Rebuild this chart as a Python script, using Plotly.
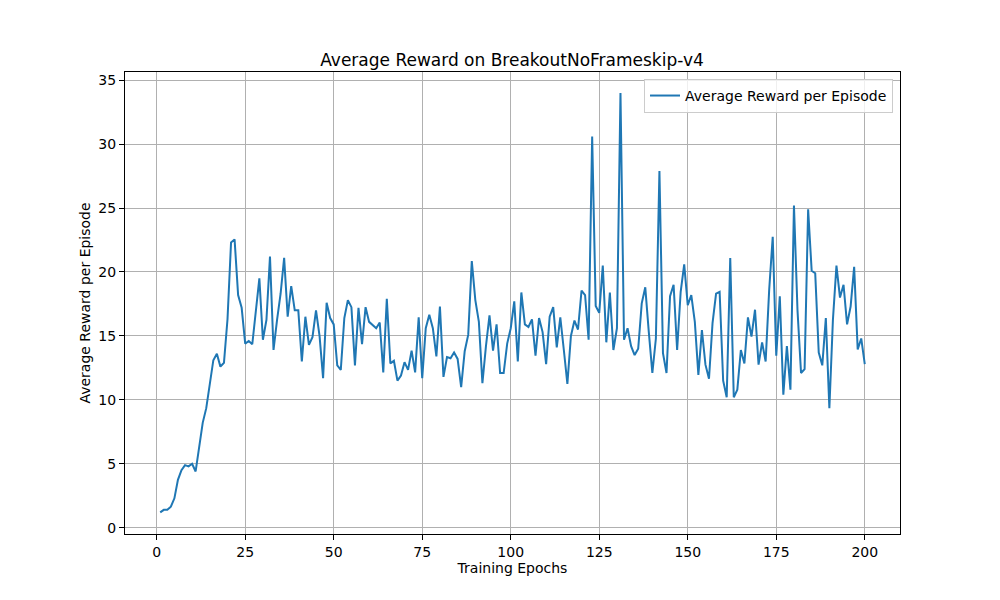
import plotly.graph_objects as go

epochs = list(range(1, 201))
avg_reward = [
    1.2, 1.4, 1.4, 1.65, 2.3, 3.75, 4.5, 4.9, 4.8, 5.0,
    4.4, 6.2, 8.2, 9.35, 11.4, 13.1, 13.6, 12.6, 12.9, 16.3,
    22.3, 22.55, 18.2, 17.2, 14.4, 14.6, 14.35, 17.2, 19.5, 14.7,
    16.25, 21.2, 13.9, 16.25, 18.3, 21.1, 16.5, 18.9, 17.0, 17.0,
    13.0, 16.5, 14.3, 14.9, 17.0, 15.0, 11.7, 17.6, 16.4, 15.9,
    12.7, 12.35, 16.4, 17.8, 17.25, 12.7, 17.2, 14.35, 17.25, 16.1,
    15.85, 15.6, 16.05, 12.15, 17.9, 12.85, 13.05, 11.5, 11.9, 12.95,
    12.35, 13.85, 12.15, 16.45, 11.7, 15.6, 16.65, 15.6, 13.4, 17.3,
    11.8, 13.35, 13.25, 13.7, 13.2, 11.0, 13.8, 15.1, 20.85, 17.8,
    16.1, 11.3, 14.2, 16.6, 13.85, 15.9, 12.1, 12.1, 14.4, 15.6,
    17.7, 13.0, 18.4, 15.9, 15.7, 16.3, 13.45, 16.4, 15.3, 12.8,
    16.5, 17.25, 14.1, 16.45, 13.9, 11.25, 15.0, 16.2, 15.5, 18.55,
    18.2, 14.7, 30.6, 17.35, 16.8, 20.5, 14.5, 18.4, 13.9, 15.6,
    34.0, 14.7, 15.6, 14.2, 13.5, 14.0, 17.55, 18.8, 15.3, 12.1,
    14.8, 27.9, 13.65, 12.1, 18.1, 19.0, 13.9, 18.45, 20.6, 17.4,
    18.2, 16.1, 11.95, 15.45, 12.75, 11.65, 16.0, 18.3, 18.45, 11.5,
    10.2, 21.1, 10.2, 10.8, 13.9, 12.85, 16.45, 14.95, 17.05, 12.75,
    14.5, 13.0, 18.6, 22.75, 13.45, 18.1, 10.4, 14.2, 10.8, 25.2,
    17.0, 12.1, 12.4, 24.9, 20.1, 19.9, 13.7, 12.7, 16.4, 9.35,
    16.25, 20.5, 18.0, 19.0, 15.9, 17.3, 20.4, 13.95, 14.8, 12.8,
]

FONT = "DejaVu Sans"
GRID = "#b0b0b0"

line = go.Scatter(
    x=epochs, y=avg_reward, mode="lines",
    name="Average Reward per Episode",
    line=dict(color="#1f77b4", width=2),
)

# la page html ajoute ~8px de marge : on compense dans les marges
fig = go.Figure(data=[line])
fig.update_layout(
    width=1000, height=600,
    paper_bgcolor="white", plot_bgcolor="white",
    margin=dict(l=117, r=108, t=64, b=74),
    font=dict(family=FONT, size=14, color="black"),
    title=dict(text="Average Reward on BreakoutNoFrameskip-v4",
               x=0.504, xanchor="center", y=0.903, yanchor="bottom",
               font=dict(size=17, family=FONT, color="black")),
    showlegend=True,
    legend=dict(x=0.991, y=0.985, xanchor="right", yanchor="top",
                bgcolor="rgba(255,255,255,0.8)", bordercolor="#cccccc",
                borderwidth=1, font=dict(size=14, family=FONT),
                itemwidth=30),
    xaxis=dict(range=[-8.95, 209.95], tickvals=[0, 25, 50, 75, 100, 125, 150, 175, 200],
               showgrid=True, gridcolor=GRID, gridwidth=1, zeroline=False,
               showline=True, linecolor="black", linewidth=1, mirror=True,
               ticks="outside", ticklen=5, tickcolor="black",
               title=dict(text="Training Epochs", font=dict(size=14), standoff=4)),
    yaxis=dict(range=[-0.49, 35.64], tickvals=[0, 5, 10, 15, 20, 25, 30, 35],
               showgrid=True, gridcolor=GRID, gridwidth=1, zeroline=False,
               showline=True, linecolor="black", linewidth=1, mirror=True,
               ticks="outside", ticklen=5, tickcolor="black",
               title=dict(text="Average Reward per Episode", font=dict(size=14), standoff=4)),
)

fig.write_html("out.html")
